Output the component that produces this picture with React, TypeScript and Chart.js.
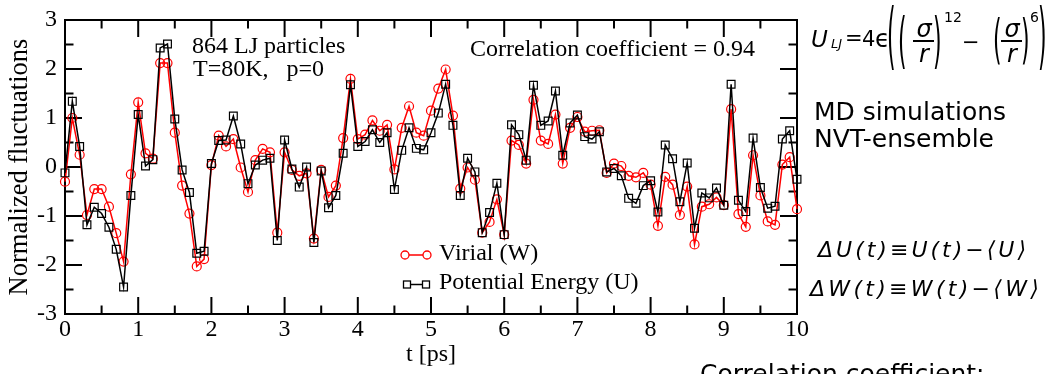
import React, { useEffect, useRef } from "react";
import { Chart, registerables } from "chart.js";

Chart.register(...registerables);

// ---------- data ----------
const timePs = [
  0, 0.1, 0.2, 0.3, 0.4, 0.5, 0.6, 0.7, 0.8, 0.9,
  1, 1.1, 1.2, 1.3, 1.4, 1.5, 1.6, 1.7, 1.8, 1.9,
  2, 2.1, 2.2, 2.3, 2.4, 2.5, 2.6, 2.7, 2.8, 2.9,
  3, 3.1, 3.2, 3.3, 3.4, 3.5, 3.6, 3.7, 3.8, 3.9,
  4, 4.1, 4.2, 4.3, 4.4, 4.5, 4.6, 4.7, 4.8, 4.9,
  5, 5.1, 5.2, 5.3, 5.4, 5.5, 5.6, 5.7, 5.8, 5.9,
  6, 6.1, 6.2, 6.3, 6.4, 6.5, 6.6, 6.7, 6.8, 6.9,
  7, 7.1, 7.2, 7.3, 7.4, 7.5, 7.6, 7.7, 7.8, 7.9,
  8, 8.1, 8.2, 8.3, 8.4, 8.5, 8.6, 8.7, 8.8, 8.9,
  9, 9.1, 9.2, 9.3, 9.4, 9.5, 9.6, 9.7, 9.8, 9.9,
  10,
];

const virialW = [
  -0.30, 1.00, 0.25, -0.98, -0.45, -0.45, -0.81, -1.35, -1.93, -0.15,
  1.32, 0.28, 0.17, 2.12, 2.12, 0.70, -0.38, -0.95, -2.03, -1.88,
  0.04, 0.64, 0.42, 0.57, -0.01, -0.51, 0.14, 0.37, 0.30, -1.34,
  0.30, -0.06, -0.18, -0.13, -1.46, -0.06, -0.61, -0.38, 0.59, 1.80,
  0.57, 0.66, 0.95, 0.74, 0.86, -0.05, 0.80, 1.24, 0.70, 0.64,
  1.15, 1.60, 1.99, 1.05, -0.44, -0.01, -0.26, -1.34, -1.12, -0.66,
  -1.38, 0.54, 0.45, 0.07, 1.37, 0.54, 0.47, 1.07, 0.07, 0.80,
  1.02, 0.72, 0.74, 0.75, -0.12, 0.07, 0.02, -0.18, -0.21, -0.12,
  -0.36, -1.20, -0.20, -0.36, -0.98, -0.40, -1.58, -0.81, -0.76, -0.62,
  -0.78, 1.18, -0.96, -1.22, 0.24, -0.58, -1.11, -1.18, 0.05, 0.20,
  -0.86,
];

const potentialU = [
  -0.12, 1.34, 0.42, -1.18, -0.82, -0.95, -1.23, -1.68, -2.45, -0.58,
  1.07, 0.02, 0.15, 2.43, 2.51, 0.98, -0.06, -0.52, -1.76, -1.72,
  0.07, 0.54, 0.55, 1.04, 0.47, -0.34, 0.04, 0.14, 0.18, -1.50,
  0.55, -0.04, -0.41, 0.00, -1.54, -0.08, -0.83, -0.58, 0.28, 1.68,
  0.42, 0.52, 0.76, 0.50, 0.70, -0.46, 0.34, 0.80, 0.38, 0.35,
  0.70, 1.10, 1.69, 0.85, -0.58, 0.18, -0.10, -1.34, -0.93, -0.33,
  -1.38, 0.86, 0.66, 0.14, 1.67, 0.85, 0.94, 1.55, 0.24, 0.90,
  1.06, 0.62, 0.57, 0.72, -0.10, -0.03, -0.18, -0.64, -0.74, -0.38,
  -0.28, -0.92, 0.45, 0.17, -0.71, 0.08, -1.25, -0.53, -0.63, -0.43,
  -0.78, 1.69, -0.68, -0.91, 0.59, -0.42, -0.84, -0.80, 0.57, 0.74,
  -0.25,
];

const seriesLabels = ["Virial (W)", "Potential Energy (U)"];
const xMajorTicks = [0, 1, 2, 3, 4, 5, 6, 7, 8, 9, 10];
const xMinorTicks = [0.5, 1.5, 2.5, 3.5, 4.5, 5.5, 6.5, 7.5, 8.5, 9.5];
const yMajorTicks = [-3, -2, -1, 0, 1, 2, 3];
const yMinorTicks = [-2.5, -1.5, -0.5, 0.5, 1.5, 2.5];

// ---------- styles ----------
const SERIF = '"Liberation Serif", "Times New Roman", serif';
const SANS = '"DejaVu Sans", sans-serif';
const RED = "#ff0000";
const BLACK = "#000000";

const framePlugin = {
  id: "frameTicksNotes",
  beforeDatasetsDraw(chart: any) {
    const { ctx, chartArea: a, scales } = chart;
    const xs = scales.x;
    const ys = scales.y;
    const major = 17;
    const minor = 8.5;
    ctx.save();
    ctx.strokeStyle = "#000";
    ctx.lineWidth = 2;
    ctx.beginPath();
    const xt = (v: number, len: number) => {
      const p = xs.getPixelForValue(v);
      ctx.moveTo(p, a.bottom);
      ctx.lineTo(p, a.bottom - len);
      ctx.moveTo(p, a.top);
      ctx.lineTo(p, a.top + len);
    };
    const yt = (v: number, len: number) => {
      const p = ys.getPixelForValue(v);
      ctx.moveTo(a.left, p);
      ctx.lineTo(a.left + len, p);
      ctx.moveTo(a.right, p);
      ctx.lineTo(a.right - len, p);
    };
    xMajorTicks.forEach((v) => xt(v, major));
    xMinorTicks.forEach((v) => xt(v, minor));
    yMajorTicks.forEach((v) => yt(v, major));
    yMinorTicks.forEach((v) => yt(v, minor));
    ctx.stroke();
    ctx.strokeRect(a.left, a.top, a.right - a.left, a.bottom - a.top);
    ctx.restore();
  },
  afterDraw(chart: any) {
    const { ctx } = chart;
    ctx.save();
    ctx.fillStyle = "#000";
    ctx.font = `24px ${SERIF}`;
    ctx.textAlign = "left";
    ctx.textBaseline = "alphabetic";
    ctx.fillText("864 LJ particles", 192, 53);
    ctx.fillText("T=80K,   p=0", 193, 76);
    ctx.fillText("Correlation coefficient = 0.94", 470, 56);

    // legend
    const ds = chart.data.datasets;
    ctx.lineWidth = 1.5;
    ctx.strokeStyle = ds[0].borderColor;
    ctx.beginPath();
    ctx.moveTo(405, 255);
    ctx.lineTo(427, 255);
    ctx.stroke();
    ctx.fillStyle = "#fff";
    ctx.lineWidth = 1.3;
    [405, 427].forEach((cx) => {
      ctx.beginPath();
      ctx.arc(cx, 255, 4, 0, Math.PI * 2);
      ctx.fill();
      ctx.stroke();
    });
    ctx.lineWidth = 1.5;
    ctx.strokeStyle = ds[1].borderColor;
    ctx.beginPath();
    ctx.moveTo(407, 284.5);
    ctx.lineTo(426, 284.5);
    ctx.stroke();
    ctx.lineWidth = 1.3;
    [407, 426].forEach((cx) => {
      ctx.fillRect(cx - 3.5, 281, 7, 7);
      ctx.strokeRect(cx - 3.5, 281, 7, 7);
    });
    ctx.fillStyle = "#000";
    ctx.textBaseline = "middle";
    ctx.fillText(ds[0].label, 439, 254);
    ctx.fillText(ds[1].label, 439, 283);
    ctx.restore();
  },
};

// ---------- right-hand text ----------
const abs = (left: number, top: number, size: number, extra: any = {}) => ({
  position: "absolute" as const,
  left,
  top,
  fontSize: size,
  lineHeight: 1,
  fontFamily: SANS,
  whiteSpace: "pre" as const,
  color: "#000",
  margin: 0,
  ...extra,
});

function Paren({ ch, left, top, height }: { ch: string; left: number; top: number; height: number }) {
  const k = height / 19.5;
  return (
    <span style={abs(left, top - 2 * k, 22, { transform: `scaleY(${k})`, transformOrigin: "left top" })}>{ch}</span>
  );
}

function Frac({ cx, barLeft, barWidth }: { cx: number; barLeft: number; barWidth: number }) {
  return (
    <>
      <span style={abs(cx - 15, 16.7, 24, { width: 30, textAlign: "center", fontStyle: "italic" })}>σ</span>
      <div style={{ position: "absolute", left: barLeft, top: 40, width: barWidth, height: 2, background: "#000" }} />
      <span style={abs(cx - 15, 41.7, 24, { width: 30, textAlign: "center", fontStyle: "italic" })}>r</span>
    </>
  );
}

export default function App() {
  const canvasRef = useRef<HTMLCanvasElement | null>(null);

  useEffect(() => {
    document.body.style.margin = "0";
    const canvas = canvasRef.current;
    if (!canvas) return;
    const tickFont = { family: SERIF, size: 24, lineHeight: 1 };
    const chart = new Chart(canvas, {
      type: "scatter",
      data: {
        datasets: [
          {
            label: seriesLabels[0],
            data: timePs.map((t, i) => ({ x: t, y: virialW[i] })),
            showLine: true,
            borderColor: RED,
            borderWidth: 1.5,
            pointStyle: "circle",
            pointRadius: 4.5,
            pointBorderWidth: 1.2,
            pointBorderColor: RED,
            pointBackgroundColor: "rgba(0,0,0,0)",
            order: 2,
            clip: false,
          } as any,
          {
            label: seriesLabels[1],
            data: timePs.map((t, i) => ({ x: t, y: potentialU[i] })),
            showLine: true,
            borderColor: BLACK,
            borderWidth: 1.5,
            pointStyle: "rect",
            pointRadius: 5.5,
            pointBorderWidth: 1.2,
            pointBorderColor: BLACK,
            pointBackgroundColor: "rgba(0,0,0,0)",
            order: 1,
            clip: false,
          } as any,
        ],
      },
      options: {
        animation: false,
        responsive: false,
        maintainAspectRatio: false,
        devicePixelRatio: 1,
        layout: { padding: { left: 0, right: 256, top: 13, bottom: 0 } },
        plugins: { legend: { display: false }, tooltip: { enabled: false } },
        events: [],
        scales: {
          x: {
            type: "linear",
            min: 0,
            max: 10,
            afterFit: (s: any) => {
              s.height = 60;
            },
            afterBuildTicks: (s: any) => {
              s.ticks = xMajorTicks.map((v) => ({ value: v }));
            },
            ticks: { font: tickFont, color: "#000", padding: 4, maxRotation: 0, autoSkip: false },
            grid: { display: false, drawTicks: false },
            border: { display: false },
            title: {
              display: true,
              text: "t [ps]",
              color: "#000",
              font: { family: SERIF, size: 24 },
              padding: { top: 0, bottom: 5 },
            },
          },
          y: {
            type: "linear",
            min: -3,
            max: 3,
            afterFit: (s: any) => {
              s.width = 65;
            },
            afterBuildTicks: (s: any) => {
              s.ticks = yMajorTicks.map((v) => ({ value: v }));
            },
            ticks: { font: tickFont, color: "#000", padding: 8, autoSkip: false },
            grid: { display: false, drawTicks: false },
            border: { display: false },
            title: {
              display: true,
              text: "Normalized fluctuations",
              color: "#000",
              font: { family: SERIF, size: 26.5 },
              padding: { top: 4, bottom: 0 },
            },
          },
        },
      } as any,
      plugins: [framePlugin],
    });
    return () => chart.destroy();
  }, []);

  return (
    <div
      style={{
        position: "absolute",
        left: 0,
        top: 0,
        width: 1053,
        height: 374,
        overflow: "hidden",
        background: "#fff",
      }}
    >
      <canvas
        ref={canvasRef}
        width={1053}
        height={374}
        style={{ position: "absolute", left: 0, top: 0, width: 1053, height: 374, display: "block" }}
      />
      {/* Lennard-Jones formula */}
      <span style={abs(811, 27.5, 23, { fontStyle: "italic" })}>U</span>
      <span style={abs(831, 37, 13, { fontStyle: "italic" })}>LJ</span>
      <span style={abs(845, 28, 21)}>=</span>
      <span style={abs(862, 29, 21)}>4</span>
      <span style={abs(875, 27, 24)}>ϵ</span>
      <Paren ch="(" left={887} top={8} height={65} />
      <Paren ch="(" left={898} top={17} height={53} />
      <Frac cx={924} barLeft={913} barWidth={21} />
      <Paren ch=")" left={933} top={17} height={53} />
      <span style={abs(944, 10, 14)}>12</span>
      <span style={abs(962, 32, 21)}>−</span>
      <Paren ch="(" left={993} top={20} height={47} />
      <Frac cx={1012} barLeft={1001} barWidth={21} />
      <Paren ch=")" left={1021} top={20} height={47} />
      <span style={abs(1030, 10, 14)}>6</span>
      <Paren ch=")" left={1038} top={8} height={65} />

      <span style={abs(814, 99, 25)}>MD simulations</span>
      <span style={abs(814, 126, 25)}>NVT-ensemble</span>

      <span style={abs(818, 239, 22, { fontStyle: "italic", letterSpacing: 3 })}>ΔU(t)≡U(t)−⟨U⟩</span>
      <span style={abs(810, 278, 22, { fontStyle: "italic", letterSpacing: 3.3 })}>ΔW(t)≡W(t)−⟨W⟩</span>

      <span style={abs(700, 361, 25)}>Correlation coefficient:</span>
    </div>
  );
}
